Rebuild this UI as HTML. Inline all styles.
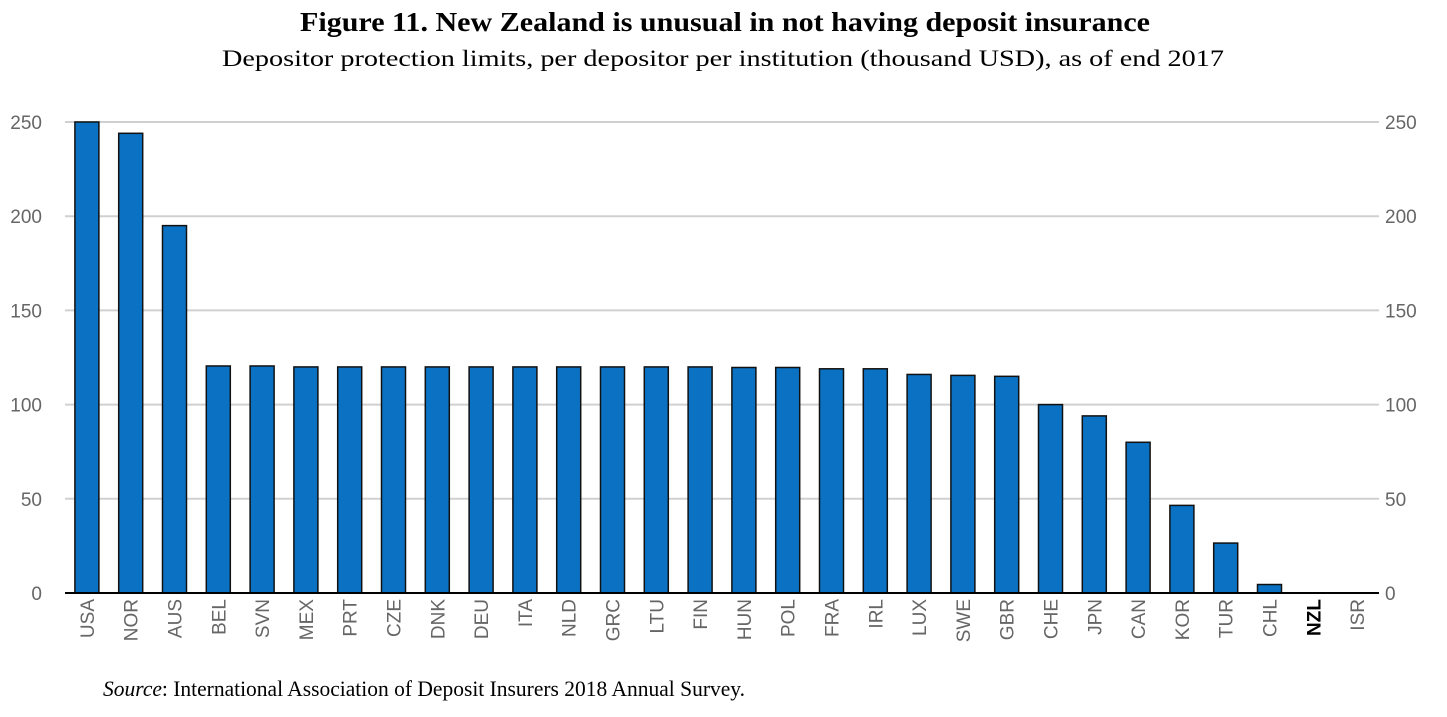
<!DOCTYPE html>
<html><head><meta charset="utf-8"><style>
body{margin:0;background:#fff;width:1447px;height:712px;overflow:hidden;font-family:"Liberation Sans",sans-serif}
</style></head><body>
<svg id="chart" width="1447" height="712" xmlns="http://www.w3.org/2000/svg">
<text x="300" y="31" textLength="850" lengthAdjust="spacingAndGlyphs" font-family="Liberation Serif" font-weight="bold" font-size="27">Figure 11. New Zealand is unusual in not having deposit insurance</text>
<text x="222" y="66" textLength="1002" lengthAdjust="spacingAndGlyphs" font-family="Liberation Serif" font-size="23">Depositor protection limits, per depositor per institution (thousand USD), as of end 2017</text>
<text x="103" y="696" textLength="642" lengthAdjust="spacingAndGlyphs" font-family="Liberation Serif" font-size="22"><tspan font-style="italic">Source</tspan>: International Association of Deposit Insurers 2018 Annual Survey.</text>
<g id="grid"></g><g id="bars"></g><g id="labels"></g>
</svg>
<script>
const categories=["USA","NOR","AUS","BEL","SVN","MEX","PRT","CZE","DNK","DEU","ITA","NLD","GRC","LTU","FIN","HUN","POL","FRA","IRL","LUX","SWE","GBR","CHE","JPN","CAN","KOR","TUR","CHL","NZL","ISR"];
const values=[250,244,195,120.5,120.5,120,120,120,120,120,120,120,120,120,120,119.7,119.7,119,119,116,115.5,115,100,94,80,46.5,26.5,4.5,0,0];
const ticks=[0,50,100,150,200,250];
const NS="http://www.w3.org/2000/svg";
const x0=65,x1=1379,yb=593,yt=122;
const band=(x1-x0)/categories.length;
const y=v=>yb-(v/250)*(yb-yt);
const xc=i=>x0+band*(i+0.5);
function mk(t,a,p){const e=document.createElementNS(NS,t);for(const k in a)e.setAttribute(k,a[k]);document.getElementById(p).appendChild(e);return e;}
ticks.forEach(t=>{
 if(t>0){const g=mk('line',{x1:x0,x2:x1,y1:y(t),y2:y(t),stroke:'#d0d0d0','stroke-width':2},'grid');
 
 }
 const l=mk('text',{x:42,y:y(t)+7,'text-anchor':'end','font-size':19,fill:'#666'},'grid');l.textContent=t;
 
 
 const r=mk('text',{x:1385,y:y(t)+7,'font-size':19,fill:'#666'},'grid');r.textContent=t;
 
 
});
categories.forEach((c,i)=>{
 if(values[i]>0){const b=mk('rect',{x:xc(i)-12,y:y(values[i]),width:24,height:yb-y(values[i]),fill:'#0b72c3',stroke:'#111','stroke-width':1.5},'bars');
 
 }
 const t=mk('text',{transform:`translate(${xc(i)+7},599) rotate(-90)`,'text-anchor':'end','font-size':19,fill:c==='NZL'?'#000':'#666','font-weight':c==='NZL'?'bold':'normal'},'labels');
 t.textContent=c;
 
 
});
const ax=mk('line',{x1:x0,x2:x1,y1:yb,y2:yb,stroke:'#000','stroke-width':2},'labels');


</script>
</body></html>
